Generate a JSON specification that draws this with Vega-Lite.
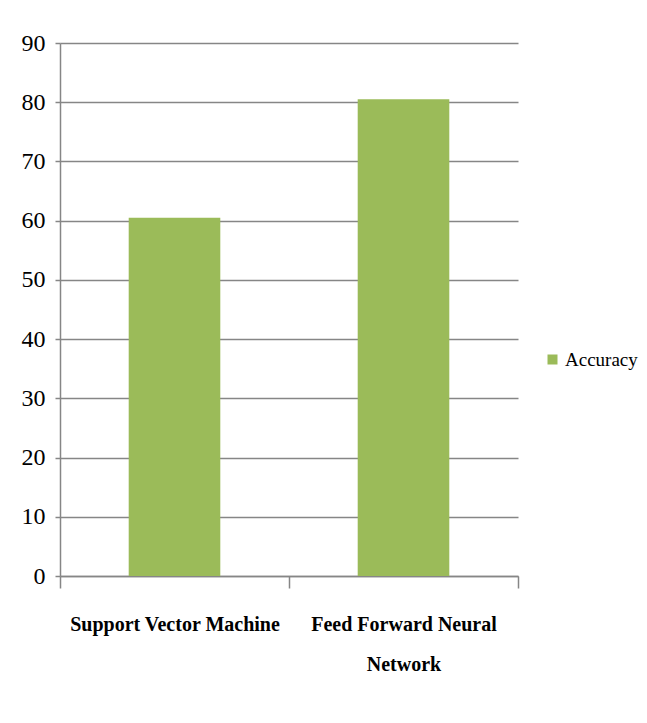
{
  "$schema": "https://vega.github.io/schema/vega-lite/v6.json",
  "width": 458,
  "height": 533,
  "autosize": {"type": "none"},
  "padding": {"left": 60, "top": 43, "right": 129, "bottom": 147},
  "background": "white",
  "data": {
    "values": [
      {"model": "Support Vector Machine", "series": "Accuracy", "value": 60.5},
      {"model": "Feed Forward Neural Network", "series": "Accuracy", "value": 80.5}
    ]
  },
  "mark": {"type": "bar", "color": "#9BBB59", "width": {"band": 0.4}},
  "encoding": {
    "x": {
      "field": "model",
      "type": "nominal",
      "sort": null,
      "scale": {"paddingInner": 0, "paddingOuter": 0},
      "axis": {
        "title": null,
        "labelAngle": 0,
        "labelLimit": 0,
        "tickBand": "extent",
        "tickSize": 12,
        "tickColor": "#868686",
        "tickWidth": 1.5,
        "domainColor": "#868686",
        "domainWidth": 1.5,
        "labelFont": "Liberation Serif",
        "labelFontWeight": "bold",
        "labelFontSize": 20,
        "labelColor": "#000000",
        "labelPadding": 26,
        "labelLineHeight": 40,
        "labelBaseline": "top",
        "labelExpr": "datum.value == 'Feed Forward Neural Network' ? ['Feed Forward Neural', 'Network'] : datum.value"
      }
    },
    "y": {
      "field": "value",
      "type": "quantitative",
      "scale": {"domain": [0, 90]},
      "axis": {
        "title": null,
        "values": [0, 10, 20, 30, 40, 50, 60, 70, 80, 90],
        "grid": true,
        "gridColor": "#868686",
        "gridWidth": 1.5,
        "tickSize": 5,
        "tickColor": "#868686",
        "tickWidth": 1.5,
        "domainColor": "#868686",
        "domainWidth": 1.5,
        "labelFont": "Liberation Serif",
        "labelFontSize": 24,
        "labelColor": "#000000",
        "labelPadding": 10
      }
    },
    "fill": {
      "field": "series",
      "type": "nominal",
      "scale": {"range": ["#9BBB59"]},
      "legend": {
        "title": null,
        "orient": "none",
        "legendX": 483,
        "legendY": 307,
        "symbolType": "square",
        "symbolSize": 100,
        "symbolStrokeWidth": 0,
        "labelFont": "Liberation Serif",
        "labelFontSize": 19,
        "labelColor": "#000000",
        "labelOffset": 3,
        "labelLimit": 0
      }
    }
  },
  "config": {
    "view": {"stroke": null}
  }
}
